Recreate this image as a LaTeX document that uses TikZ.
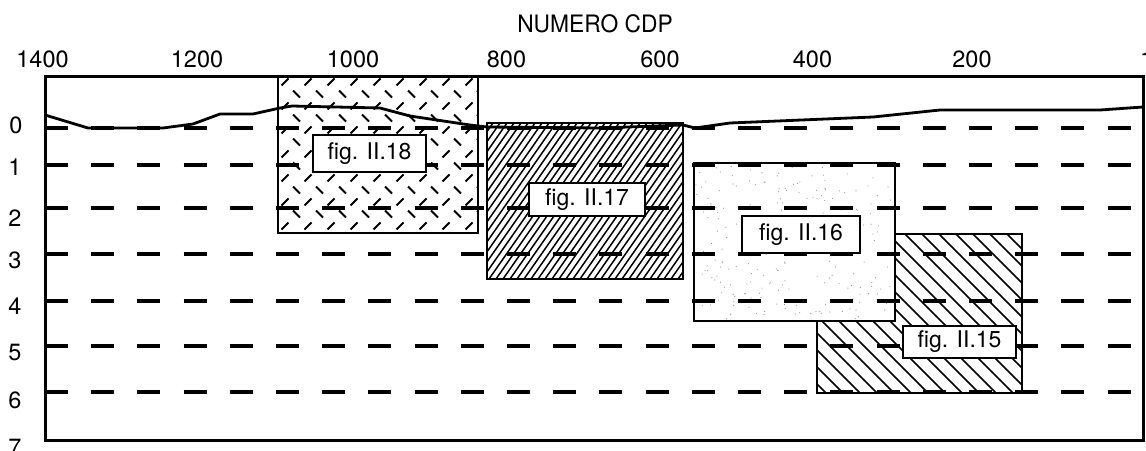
\documentclass[tikz,border=0pt]{standalone}
\usepackage{fontspec}
\usepackage{graphicx}
\setmainfont{TeX Gyre Heros}
\newcommand{\axfont}{\fontsize{23.5}{23.5}\selectfont}
\newcommand{\figfont}{\fontsize{23}{23}\selectfont}
\newcommand{\titfont}{\fontsize{24}{24}\selectfont}
\tikzset{
  frameline/.style={line width=3pt},
  boxline/.style={line width=2.8pt},
  depthline/.style={line width=3.2pt, dash pattern=on 23pt off 23.2pt},
  surfline/.style={line width=2.8pt, line join=round},
  figlabel/.style={draw, line width=2.6pt, fill=white, inner sep=0pt, font=\figfont},
  axlabel/.style={font=\axfont, inner sep=0pt},
  hatchline/.style={line width=1.5pt},
  markline/.style={line width=1.9pt},
}
\begin{document}
\begin{tikzpicture}[x=1pt,y=-1pt]
\useasboundingbox (0,0) rectangle (1146,450);
\fill[white] (0,0) rectangle (1146,450);

% box fig. II.18 (dash cross pattern)
\fill[white] (278,76) rectangle (478,233);
\begin{scope}
  \clip (278,76) rectangle (478,233);
  \foreach \j in {0,...,6} \foreach \i in {0,...,8}
    \draw[markline] ({285+23*\i-3.5},{82+24*\j+3.5}) -- ++(7,-7);
  \foreach \j in {0,...,6} \foreach \i in {0,...,8}
    \draw[markline] ({296.5+23*\i-3.5},{94+24*\j-3.5}) -- ++(7,7);
\end{scope}
\draw[boxline] (278,76) rectangle (478,233);

% box fig. II.17 (dense hatching)
\fill[white] (487,123) rectangle (683,279);
\begin{scope}
  \clip (487,123) rectangle (683,279);
  \foreach \x in {370,377,...,690}
    \draw[hatchline] (\x,279) -- ++(109,-156);
\end{scope}
\draw[boxline] (487,123) rectangle (683,279);

% box fig. II.15 (sparse hatching)
\fill[white] (817,234) rectangle (1022,393);
\begin{scope}
  \clip (817,234) rectangle (1022,393);
  \foreach \x in {650,667,...,1030}
    \draw[hatchline, line width=1.7pt] (\x,234) -- ++(159,159);
\end{scope}
\draw[boxline] (817,234) rectangle (1022,393);

% box fig. II.16 (stipple)
\fill[white] (694,163) rectangle (895,321);
\pgfmathsetseed{7}
\foreach \i in {1,...,220} {
  \pgfmathsetmacro\px{696+197*rnd}
  \pgfmathsetmacro\py{165+154*rnd}
  \fill[black!40] (\px,\py) circle (0.6pt);
}
\draw[boxline] (694,163) rectangle (895,321);

% depth lines
\foreach \yy in {128,165,208,254,301,346,392}
  \draw[depthline] (45,\yy) -- (1143,\yy);

% surface line
\draw[surfline] (45,115) -- (88,128) -- (163,128) -- (193,124) -- (220,114) -- (253,114)
  -- (280,108) -- (292,106) -- (380,108) -- (410,116) -- (470,125) -- (487,127)
  -- (600,128) -- (683,125) -- (695,128) -- (730,123) -- (873,117) -- (940,110)
  -- (1100,110) -- (1143,107);

% frame
\draw[frameline] (45,76) rectangle (1143,440);

% figure labels
\node[figlabel, minimum width=113pt, minimum height=37pt] (f18) at (369.5,153.5) {fig. II.18};
\node[figlabel, minimum width=116pt, minimum height=33pt] (f17) at (587,199.5) {fig. II.17};
\node[figlabel, minimum width=118pt, minimum height=37pt] (f16) at (801,234.5) {fig. II.16};
\node[figlabel, minimum width=113pt, minimum height=32pt] (f15) at (959.5,342) {fig. II.15};

% axis texts
\node[axlabel, font=\titfont] (title) at (595,24) {\scalebox{0.95}[1]{NUMERO CDP}};
\node[axlabel] (c1400) at (42.5,59) {1400};
\node[axlabel] (c1200) at (197,59) {1200};
\node[axlabel] (c1000) at (353,59) {1000};
\node[axlabel] (c800) at (506.5,59) {800};
\node[axlabel] (c600) at (660,59) {600};
\node[axlabel] (c400) at (812.5,59) {400};
\node[axlabel] (c200) at (972,59) {200};
\node[axlabel, anchor=west] (c1) at (1140,59) {1};

\node[axlabel] (d0) at (16,125) {0};
\node[axlabel] (d1) at (15,167) {1};
\node[axlabel] (d2) at (15,218) {2};
\node[axlabel] (d3) at (15,260) {3};
\node[axlabel] (d4) at (15,306) {4};
\node[axlabel] (d5) at (15,353) {5};
\node[axlabel] (d6) at (15,400) {6};
\node[axlabel] (d7) at (15,447) {7};
\end{tikzpicture}
\end{document}
